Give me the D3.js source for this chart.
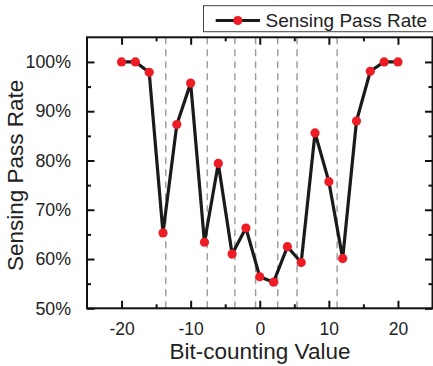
<!DOCTYPE html>
<html>
<head>
<meta charset="utf-8">
<script src="https://cdn.jsdelivr.net/npm/d3@7/dist/d3.min.js"></script>
<style>
  html, body { margin: 0; padding: 0; background: #fff; }
  svg { display: block; }
  text { font-family: "Liberation Sans", Arial, sans-serif; fill: #222; }
</style>
</head>
<body>
<svg id="chart" width="433" height="366"></svg>
<script>
const xValues = [-20, -18, -16, -14, -12, -10, -8, -6, -4, -2, 0, 2, 4, 6, 8, 10, 12, 14, 16, 18, 20];
const passRate = [100, 100, 97.9, 65.3, 87.3, 95.7, 63.4, 79.4, 61.0, 66.3, 56.4, 55.3, 62.5, 59.3, 85.6, 75.7, 60.1, 88.0, 98.1, 100, 100];
const dashedX = [-13.6, -7.6, -3.6, -0.6, 2.6, 5.4, 11.2];
const xMajorTicks = [-20, -10, 0, 10, 20];
const xMinorTicks = [-15, -5, 5, 15];
const yMajorTicks = [50, 60, 70, 80, 90, 100];
const yMinorTicks = [55, 65, 75, 85, 95];
const seriesName = "Sensing Pass Rate";
const xTitle = "Bit-counting Value";
const yTitle = "Sensing Pass Rate";

const svg = d3.select("#chart");
const L = 87, R = 432.5, T = 37.3, B = 308.3;
const x = d3.scaleLinear().domain([-25, 25]).range([L, R]);
const y = d3.scaleLinear().domain([50, 105]).range([B, T]);

// dashed verticals
svg.append("g").selectAll("line").data(dashedX).join("line")
  .attr("x1", d => x(d)).attr("x2", d => x(d))
  .attr("y1", T).attr("y2", B)
  .attr("stroke", "#9a9a9a").attr("stroke-width", 1.4)
  .attr("stroke-dasharray", "7,5");

// axes with inward ticks
const tickStyle = g => g.selectAll("line").attr("stroke", "#111").attr("stroke-width", 2);
const majLen = 7.5, minLen = 4;

const xBottom = svg.append("g").attr("transform", `translate(0,${B})`)
  .call(d3.axisBottom(x).tickValues(xMajorTicks).tickSizeInner(-majLen).tickSizeOuter(0).tickPadding(14)
    .tickFormat(d => String(d)));
xBottom.select(".domain").remove();
xBottom.selectAll("text").attr("font-size", 17.5).attr("font-family", "Liberation Sans, Arial, sans-serif").attr("fill", "#222");
tickStyle(xBottom);
const xBottomMinor = svg.append("g").attr("transform", `translate(0,${B})`)
  .call(d3.axisBottom(x).tickValues(xMinorTicks).tickSizeInner(-minLen).tickSizeOuter(0).tickFormat(""));
xBottomMinor.select(".domain").remove();
tickStyle(xBottomMinor);

const xTop = svg.append("g").attr("transform", `translate(0,${T})`)
  .call(d3.axisTop(x).tickValues(xMajorTicks).tickSizeInner(-majLen).tickSizeOuter(0).tickFormat(""));
xTop.select(".domain").remove();
tickStyle(xTop);
const xTopMinor = svg.append("g").attr("transform", `translate(0,${T})`)
  .call(d3.axisTop(x).tickValues(xMinorTicks).tickSizeInner(-minLen).tickSizeOuter(0).tickFormat(""));
xTopMinor.select(".domain").remove();
tickStyle(xTopMinor);

const yLeft = svg.append("g").attr("transform", `translate(${L},0)`)
  .call(d3.axisLeft(y).tickValues(yMajorTicks).tickSizeInner(-majLen).tickSizeOuter(0).tickPadding(16).tickFormat(d => d + "%"));
yLeft.select(".domain").remove();
yLeft.selectAll("text").attr("font-size", 17.8).attr("font-family", "Liberation Sans, Arial, sans-serif").attr("fill", "#222");
tickStyle(yLeft);
const yLeftMinor = svg.append("g").attr("transform", `translate(${L},0)`)
  .call(d3.axisLeft(y).tickValues(yMinorTicks).tickSizeInner(-minLen).tickSizeOuter(0).tickFormat(""));
yLeftMinor.select(".domain").remove();
tickStyle(yLeftMinor);

const yRight = svg.append("g").attr("transform", `translate(${R},0)`)
  .call(d3.axisRight(y).tickValues(yMajorTicks).tickSizeInner(-majLen).tickSizeOuter(0).tickFormat(""));
yRight.select(".domain").remove();
tickStyle(yRight);
const yRightMinor = svg.append("g").attr("transform", `translate(${R},0)`)
  .call(d3.axisRight(y).tickValues(yMinorTicks).tickSizeInner(-minLen).tickSizeOuter(0).tickFormat(""));
yRightMinor.select(".domain").remove();
tickStyle(yRightMinor);

// frame
svg.append("rect").attr("x", L).attr("y", T).attr("width", R - L).attr("height", B - T)
  .attr("fill", "none").attr("stroke", "#111").attr("stroke-width", 2);

// data line
const data = xValues.map((v, i) => ({x: v, y: passRate[i]}));
svg.append("path").datum(data)
  .attr("fill", "none").attr("stroke", "#1a1a1a").attr("stroke-width", 3.2)
  .attr("stroke-linejoin", "miter")
  .attr("d", d3.line().x(d => x(d.x)).y(d => y(d.y)));
svg.append("g").selectAll("circle").data(data).join("circle")
  .attr("cx", d => x(d.x)).attr("cy", d => y(d.y)).attr("r", 4.6)
  .attr("fill", "#ee1c25");

// axis titles
svg.append("text").attr("x", 260).attr("y", 358.5)
  .attr("text-anchor", "middle").attr("font-size", 22.5).text(xTitle);
svg.append("text").attr("transform", `translate(23,${(T + B) / 2 + 2.5}) rotate(-90)`)
  .attr("text-anchor", "middle").attr("font-size", 22.5).text(yTitle);

// legend
const lg = svg.append("g");
lg.append("rect").attr("x", 203.5).attr("y", 5.7).attr("width", 240).attr("height", 26)
  .attr("fill", "#fff").attr("stroke", "#444").attr("stroke-width", 1);
lg.append("line").attr("x1", 215.7).attr("x2", 260).attr("y1", 20.5).attr("y2", 20.5)
  .attr("stroke", "#1a1a1a").attr("stroke-width", 3.2);
lg.append("circle").attr("cx", 237.8).attr("cy", 20.5).attr("r", 4.6).attr("fill", "#ee1c25");
lg.append("text").attr("x", 265.5).attr("y", 27).attr("font-size", 19).text(seriesName);
</script>
</body>
</html>
